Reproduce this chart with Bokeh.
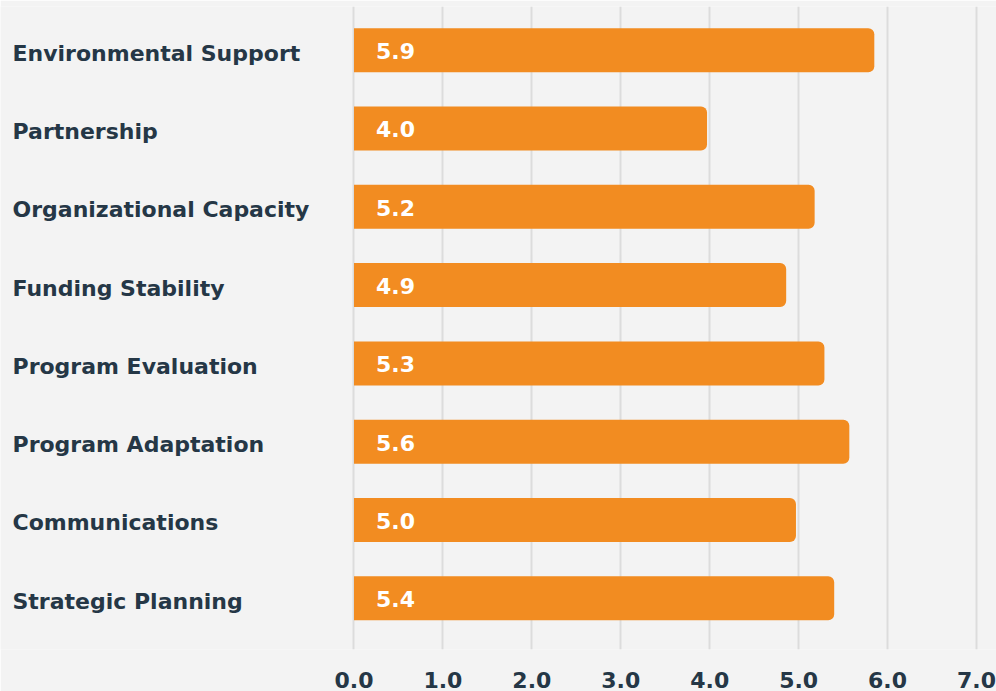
from bokeh.plotting import figure
from bokeh.models import ColumnDataSource, Range1d, FixedTicker
from bokeh.core.properties import value
from bokeh.embed import file_html
from bokeh.resources import INLINE

categories = ["Environmental Support", "Partnership", "Organizational Capacity",
              "Funding Stability", "Program Evaluation", "Program Adaptation",
              "Communications", "Strategic Planning"]
scores = [5.851, 3.97, 5.18, 4.86, 5.29, 5.57, 4.97, 5.40]
x_ticks = [0, 1, 2, 3, 4, 5, 6, 7]

n = len(categories)
ypos = [n - 1 - i for i in range(n)]
labels = [f"{v:.1f}" for v in scores]

BG = "#f3f3f3"
BAR = "#f28c21"
TXT = "#253746"
FONT = "DejaVu Sans"

src = ColumnDataSource(dict(y=ypos, v=scores, cat=categories, lab=labels,
                            x0=[0] * n, xl=[-3.84] * n))

p = figure(width=996, height=691, output_backend="svg", toolbar_location=None,
           x_range=Range1d(-3.975, 7.225), y_range=Range1d(-0.654, 7.558),
           min_border_left=0, min_border_right=0, min_border_top=6,
           min_border_bottom=42)
p.background_fill_color = BG
p.border_fill_color = BG
p.outline_line_color = None

p.hbar(y="y", left="x0", right="v", height=0.562, source=src,
       fill_color=BAR, line_color=None, border_radius=(0, 6, 6, 0))

p.text(x="x0", y="y", text="lab", source=src, x_offset=22, y_offset=1,
       text_font=value(FONT), text_font_style="bold", text_font_size="22px",
       text_color="white", text_align="left", text_baseline="middle")

p.text(x="xl", y="y", text="cat", source=src, y_offset=3,
       text_font=value(FONT), text_font_style="bold", text_font_size="22px",
       text_color=TXT, text_align="left", text_baseline="middle")

p.yaxis.visible = False
p.ygrid.grid_line_color = None
p.xaxis.ticker = FixedTicker(ticks=x_ticks)
p.xaxis.major_label_overrides = {t: f"{t:.1f}" for t in x_ticks}
p.xaxis.axis_line_color = None
p.xaxis.major_tick_line_color = None
p.xaxis.minor_tick_line_color = None
p.xaxis.major_label_text_font = FONT
p.xaxis.major_label_text_font_style = "bold"
p.xaxis.major_label_text_font_size = "22px"
p.xaxis.major_label_text_color = TXT
p.xaxis.major_label_standoff = 16
p.xgrid.grid_line_color = "#dcdcdc"
p.xgrid.grid_line_width = 2

open("out.html", "w").write(file_html(p, INLINE))
